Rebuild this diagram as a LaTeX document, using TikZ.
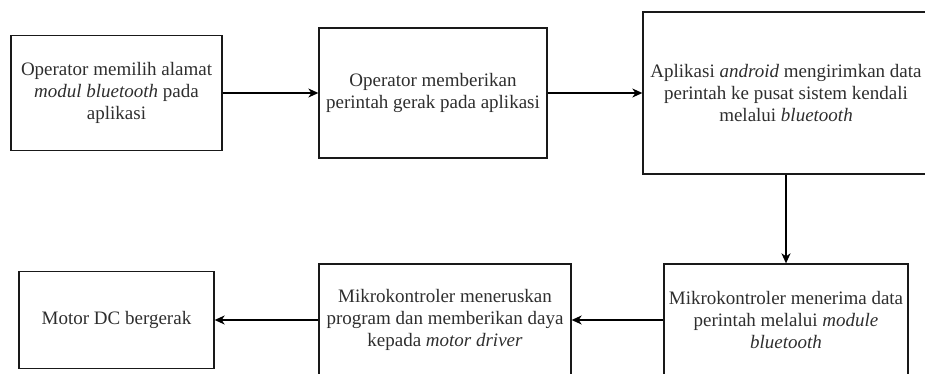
\documentclass[tikz,border=0pt]{standalone}
\usepackage{fontspec}
\setmainfont{Liberation Serif}
\usetikzlibrary{arrows.meta}
\begin{document}
\begin{tikzpicture}[x=1pt,y=1pt,
  stepbox/.style={draw=black!90, line width=1.3pt, rectangle, inner sep=0pt,
    align=center, text=black!82, font=\fontsize{19}{22}\selectfont},
  flow/.style={draw=black, line width=1.3pt,
    -{Stealth[length=10pt,width=9pt,inset=3pt]}}]
\useasboundingbox (0,0) rectangle (925,373);
\clip (0,0) rectangle (925,373);

% top row
\node[stepbox, minimum width=211, minimum height=115] (b1) at (116.5,280)
  {Operator memilih alamat\\ \textit{modul bluetooth} pada\\ aplikasi};
\node[stepbox, minimum width=228, minimum height=130] (b2) at (433,280)
  {Operator memberikan\\ perintah gerak pada aplikasi};
\node[stepbox, minimum width=286, minimum height=162] (b3) at (786,280)
  {Aplikasi \textit{android} mengirimkan data\\ perintah ke pusat sistem kendali\\ melalui \textit{bluetooth}};

% bottom row
\node[stepbox, minimum width=244, minimum height=112] (b6) at (786,53)
  {Mikrokontroler menerima data\\ perintah melalui \textit{module}\\ \textit{bluetooth}};
\node[stepbox, minimum width=252, minimum height=112] (b5) at (445,53)
  {Mikrokontroler meneruskan\\ program dan memberikan daya\\ kepada \textit{motor driver}};
\node[stepbox, minimum width=195, minimum height=97] (b4) at (116.5,53)
  {Motor DC bergerak};

% connectors
\draw[flow] (b1.east) -- (b1.east -| b2.west);
\draw[flow] (b2.east) -- (b2.east -| b3.west);
\draw[flow] (b3.south) -- (b6.north);
\draw[flow] (b6.west) -- (b6.west -| b5.east);
\draw[flow] (b5.west) -- (b5.west -| b4.east);
\end{tikzpicture}
\end{document}
